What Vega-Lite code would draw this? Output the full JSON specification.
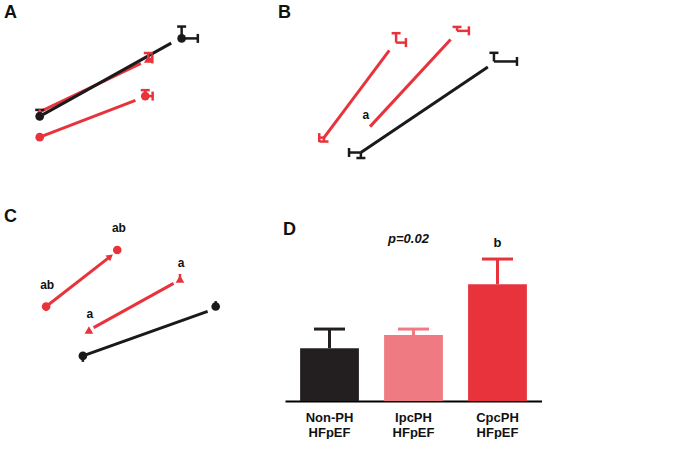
{
  "$schema": "https://vega.github.io/schema/vega-lite/v6.json",
  "background": "white",
  "padding": {"left": 4, "top": 4, "right": 0, "bottom": 0},
  "datasets": {
    "A_pts": [
      {"group": "CpcPH", "x": 0, "y": 4.22}, {"group": "CpcPH", "x": 31.3, "y": 6.3},
      {"group": "IpcPH", "x": 0, "y": 5.5}, {"group": "IpcPH", "x": 32.2, "y": 8.18},
      {"group": "Non-PH", "x": 0, "y": 5.27}, {"group": "Non-PH", "x": 42.1, "y": 9.22}
    ],
    "A_seg": [
      {"group": "CpcPH", "x": 0, "y": 4.22, "x2": 28.4, "y2": 6.08},
      {"group": "IpcPH", "x": 0, "y": 5.5, "x2": 30.0, "y2": 7.95},
      {"group": "Non-PH", "x": 0, "y": 5.27, "x2": 39.0, "y2": 8.98}
    ],
    "A_heads": [
      {"group": "CpcPH", "head": "CpcPH", "x": 28.4, "y": 6.08},
      {"group": "IpcPH", "head": "IpcPH", "x": 30.0, "y": 7.95},
      {"group": "Non-PH", "head": "Non-PH", "x": 39.0, "y": 8.98}
    ],
    "A_xerr": [
      {"group": "CpcPH", "x": 31.3, "y": 6.3, "xe": 33.5},
      {"group": "IpcPH", "x": 32.2, "y": 8.18, "xe": 33.4},
      {"group": "Non-PH", "x": 42.1, "y": 9.22, "xe": 46.9}
    ],
    "A_yerr": [
      {"group": "CpcPH", "x": 31.3, "y": 6.3, "ye": 6.6},
      {"group": "IpcPH", "x": 32.2, "y": 8.18, "ye": 8.48},
      {"group": "Non-PH", "x": 42.1, "y": 9.22, "ye": 9.82},
      {"group": "Non-PH", "x": 0, "y": 5.27, "ye": 5.6}
    ],
    "B_pts": [
      {"group": "CpcPH", "x": 4.24, "y": 20.4}, {"group": "CpcPH", "x": 6.37, "y": 32.5},
      {"group": "IpcPH", "x": 5.48, "y": 21.1}, {"group": "IpcPH", "x": 8.17, "y": 34.0},
      {"group": "Non-PH", "x": 5.33, "y": 18.5}, {"group": "Non-PH", "x": 9.26, "y": 30.1}
    ],
    "B_seg": [
      {"group": "CpcPH", "x": 4.24, "y": 20.4, "x2": 6.17, "y2": 31.5},
      {"group": "IpcPH", "x": 5.6, "y": 21.8, "x2": 7.98, "y2": 32.9},
      {"group": "Non-PH", "x": 5.33, "y": 18.5, "x2": 9.08, "y2": 29.4}
    ],
    "B_xerr": [
      {"group": "CpcPH", "x": 4.24, "y": 20.4, "xe": 4.1},
      {"group": "CpcPH", "x": 6.37, "y": 32.5, "xe": 6.66},
      {"group": "IpcPH", "x": 8.17, "y": 34.0, "xe": 8.52},
      {"group": "Non-PH", "x": 5.33, "y": 18.5, "xe": 4.98},
      {"group": "Non-PH", "x": 9.26, "y": 30.1, "xe": 9.94}
    ],
    "B_yerr": [
      {"group": "CpcPH", "x": 4.24, "y": 20.4, "ye": 19.9},
      {"group": "CpcPH", "x": 6.37, "y": 32.5, "ye": 33.7},
      {"group": "IpcPH", "x": 8.17, "y": 34.0, "ye": 34.5},
      {"group": "Non-PH", "x": 5.33, "y": 18.5, "ye": 17.8},
      {"group": "Non-PH", "x": 9.26, "y": 30.1, "ye": 31.2}
    ],
    "B_notes": [
      {"label": "a", "x": 5.48, "y": 23.3}
    ],
    "C_pts": [
      {"group": "CpcPH", "x": 4.19, "y": 38.9}, {"group": "CpcPH", "x": 6.3, "y": 58.7},
      {"group": "IpcPH", "x": 5.46, "y": 30.7}, {"group": "IpcPH", "x": 8.16, "y": 48.5},
      {"group": "Non-PH", "x": 5.28, "y": 21.6}, {"group": "Non-PH", "x": 9.22, "y": 38.9}
    ],
    "C_seg": [
      {"group": "CpcPH", "x": 4.19, "y": 38.9, "x2": 6.07, "y2": 56.2},
      {"group": "IpcPH", "x": 5.6, "y": 31.5, "x2": 7.97, "y2": 47.0},
      {"group": "Non-PH", "x": 5.28, "y": 21.6, "x2": 8.98, "y2": 37.2}
    ],
    "C_heads": [
      {"group": "CpcPH", "head": "CpcPH", "x": 6.07, "y": 56.2},
      {"group": "IpcPH", "head": "IpcPH", "x": 7.97, "y": 47.0},
      {"group": "IpcPH", "head": "IpcPH-back", "x": 5.62, "y": 31.6},
      {"group": "Non-PH", "head": "Non-PH", "x": 8.98, "y": 37.2}
    ],
    "C_yerr": [
      {"group": "CpcPH", "x": 4.19, "y": 38.9, "ye": 37.3},
      {"group": "CpcPH", "x": 6.3, "y": 58.7, "ye": 60.1},
      {"group": "IpcPH", "x": 8.16, "y": 48.5, "ye": 50.3},
      {"group": "Non-PH", "x": 5.28, "y": 21.6, "ye": 19.5},
      {"group": "Non-PH", "x": 9.22, "y": 38.9, "ye": 40.8}
    ],
    "C_notes": [
      {"label": "ab", "x": 4.22, "y": 46.3},
      {"label": "ab", "x": 6.35, "y": 66.5},
      {"label": "a", "x": 5.49, "y": 36.3},
      {"label": "a", "x": 8.19, "y": 54.1}
    ],
    "D_bars": [
      {"cond": "Non-PH HFpEF", "value": 0.219, "err": 0.298},
      {"cond": "IpcPH HFpEF", "value": 0.273, "err": 0.298},
      {"cond": "CpcPH HFpEF", "value": 0.484, "err": 0.588}
    ],
    "D_p": [{"cond": "IpcPH HFpEF", "y": 0.67, "label": "p=0.02"}],
    "D_b": [{"cond": "CpcPH HFpEF", "y": 0.654, "label": "b"}]
  },
  "resolve": {"scale": {"color": "independent", "shape": "independent"}, "legend": {"color": "independent", "shape": "independent"}},
  "vconcat": [
    {
      "resolve": {"scale": {"color": "independent", "shape": "independent"}, "legend": {"color": "independent", "shape": "independent"}},
      "hconcat": [
        {
          "width": 236, "height": 158,
          "title": {"text": "A", "offset": 1, "dx": -2},
          "layer": [
            {"data": {"name": "A_seg"}, "mark": {"type": "rule", "strokeWidth": 3},
             "encoding": {
               "x": {"field": "x", "type": "quantitative", "scale": {"domain": [-10, 60], "nice": false},
                     "axis": {"title": "Exercise work (watts)", "values": [0, 20, 40, 60], "format": "d", "labelFlush": false, "labelExpr": "datum.value === 0 ? 'Rest' : datum.label"}},
               "y": {"field": "y", "type": "quantitative", "scale": {"domain": [2, 10], "nice": false},
                     "axis": {"title": "Cardiac Output (L/min)", "values": [2, 4, 6, 8, 10], "format": "d"}},
               "x2": {"field": "x2"}, "y2": {"field": "y2"},
               "color": {"field": "group", "type": "nominal", "scale": {"domain": ["CpcPH", "IpcPH", "Non-PH"], "range": ["#e8333c", "#e8333d", "#1a1a1a"]}, "legend": null}}},
            {"data": {"name": "A_xerr"}, "mark": {"type": "rule", "strokeWidth": 2.5},
             "encoding": {"x": {"field": "x", "type": "quantitative", "axis": null}, "x2": {"field": "xe"}, "y": {"field": "y", "type": "quantitative", "axis": null}, "color": {"field": "group", "type": "nominal", "legend": null}}},
            {"data": {"name": "A_xerr"}, "mark": {"type": "tick", "orient": "vertical", "size": 9, "thickness": 2.5, "opacity": 1},
             "encoding": {"x": {"field": "xe", "type": "quantitative", "axis": null}, "y": {"field": "y", "type": "quantitative", "axis": null}, "color": {"field": "group", "type": "nominal", "legend": null}}},
            {"data": {"name": "A_yerr"}, "mark": {"type": "rule", "strokeWidth": 2.5},
             "encoding": {"x": {"field": "x", "type": "quantitative", "axis": null}, "y": {"field": "y", "type": "quantitative", "axis": null}, "y2": {"field": "ye"}, "color": {"field": "group", "type": "nominal", "legend": null}}},
            {"data": {"name": "A_yerr"}, "mark": {"type": "tick", "orient": "horizontal", "size": 9, "thickness": 2.5, "opacity": 1},
             "encoding": {"x": {"field": "x", "type": "quantitative", "axis": null}, "y": {"field": "ye", "type": "quantitative", "axis": null}, "color": {"field": "group", "type": "nominal", "legend": null}}},
            {"data": {"name": "A_pts"}, "mark": {"type": "point", "filled": true, "opacity": 1, "size": 75},
             "encoding": {"x": {"field": "x", "type": "quantitative", "axis": null}, "y": {"field": "y", "type": "quantitative", "axis": null},
               "color": {"field": "group", "type": "nominal", "legend": {"title": null, "orient": "none", "legendX": 190, "legendY": 97}},
               "shape": {"field": "group", "type": "nominal", "scale": {"domain": ["CpcPH", "IpcPH", "Non-PH"], "range": ["circle", "triangle-up", "circle"]}, "legend": {"title": null, "orient": "none", "legendX": 190, "legendY": 97}}}}
          ]
        },
        {
          "width": 237, "height": 157,
          "title": {"text": "B", "offset": 1, "dx": -4},
          "layer": [
            {"data": {"name": "B_seg"}, "mark": {"type": "rule", "strokeWidth": 3},
             "encoding": {
               "x": {"field": "x", "type": "quantitative", "scale": {"domain": [3, 10], "nice": false},
                     "axis": {"title": "Cardiac Output or Venous return (L/min)", "values": [4, 6, 8, 10], "format": "d", "labelFlush": false}},
               "y": {"field": "y", "type": "quantitative", "scale": {"domain": [15, 35], "nice": false},
                     "axis": {"title": "PCWP (mmHg)", "values": [15, 20, 25, 30, 35], "format": "d"}},
               "x2": {"field": "x2"}, "y2": {"field": "y2"},
               "color": {"field": "group", "type": "nominal", "scale": {"domain": ["CpcPH", "IpcPH", "Non-PH"], "range": ["#e8333c", "#e8333d", "#1a1a1a"]}, "legend": null}}},
            {"data": {"name": "B_xerr"}, "mark": {"type": "rule", "strokeWidth": 2.5},
             "encoding": {"x": {"field": "x", "type": "quantitative", "axis": null}, "x2": {"field": "xe"}, "y": {"field": "y", "type": "quantitative", "axis": null}, "color": {"field": "group", "type": "nominal", "legend": null}}},
            {"data": {"name": "B_xerr"}, "mark": {"type": "tick", "orient": "vertical", "size": 9, "thickness": 2.5, "opacity": 1},
             "encoding": {"x": {"field": "xe", "type": "quantitative", "axis": null}, "y": {"field": "y", "type": "quantitative", "axis": null}, "color": {"field": "group", "type": "nominal", "legend": null}}},
            {"data": {"name": "B_yerr"}, "mark": {"type": "rule", "strokeWidth": 2.5},
             "encoding": {"x": {"field": "x", "type": "quantitative", "axis": null}, "y": {"field": "y", "type": "quantitative", "axis": null}, "y2": {"field": "ye"}, "color": {"field": "group", "type": "nominal", "legend": null}}},
            {"data": {"name": "B_yerr"}, "mark": {"type": "tick", "orient": "horizontal", "size": 9, "thickness": 2.5, "opacity": 1},
             "encoding": {"x": {"field": "x", "type": "quantitative", "axis": null}, "y": {"field": "ye", "type": "quantitative", "axis": null}, "color": {"field": "group", "type": "nominal", "legend": null}}},
            {"data": {"name": "B_notes"}, "mark": {"type": "text", "fontWeight": "bold", "fontSize": 12, "color": "#111"},
             "encoding": {"x": {"field": "x", "type": "quantitative", "axis": null}, "y": {"field": "y", "type": "quantitative", "axis": null}, "text": {"field": "label"}}}
          ]
        }
      ],
      "spacing": 36
    },
    {
      "resolve": {"scale": {"color": "independent", "shape": "independent"}, "legend": {"color": "independent", "shape": "independent"}},
      "hconcat": [
        {
          "width": 236, "height": 157,
          "title": {"text": "C", "offset": -4, "dx": -2},
          "layer": [
            {"data": {"name": "C_seg"}, "mark": {"type": "rule", "strokeWidth": 3},
             "encoding": {
               "x": {"field": "x", "type": "quantitative", "scale": {"domain": [3, 10], "nice": false},
                     "axis": {"title": "Cardiac Output or Venous return (L/min)", "values": [4, 6, 8, 10], "format": "d", "labelFlush": false}},
               "y": {"field": "y", "type": "quantitative", "scale": {"domain": [10, 65], "nice": false},
                     "axis": {"title": "Mean PAP (mmHg)", "values": [10, 20, 30, 40, 50, 60], "format": "d"}},
               "x2": {"field": "x2"}, "y2": {"field": "y2"},
               "color": {"field": "group", "type": "nominal", "scale": {"domain": ["CpcPH", "IpcPH", "Non-PH"], "range": ["#e8333c", "#e8333d", "#1a1a1a"]}, "legend": null}}},
            {"data": {"name": "C_yerr"}, "mark": {"type": "rule", "strokeWidth": 2.5},
             "encoding": {"x": {"field": "x", "type": "quantitative", "axis": null}, "y": {"field": "y", "type": "quantitative", "axis": null}, "y2": {"field": "ye"}, "color": {"field": "group", "type": "nominal", "legend": null}}},
            {"data": {"name": "C_heads"}, "transform": [{"filter": "datum.head === 'CpcPH'"}], "mark": {"type": "point", "shape": "triangle", "filled": true, "opacity": 1, "size": 55, "angle": 51},
             "encoding": {"x": {"field": "x", "type": "quantitative", "axis": null}, "y": {"field": "y", "type": "quantitative", "axis": null}, "color": {"field": "group", "type": "nominal", "legend": null}}},
            {"data": {"name": "C_pts"}, "mark": {"type": "point", "filled": true, "opacity": 1, "size": 75},
             "encoding": {"x": {"field": "x", "type": "quantitative", "axis": null}, "y": {"field": "y", "type": "quantitative", "axis": null},
               "color": {"field": "group", "type": "nominal", "legend": null},
               "shape": {"field": "group", "type": "nominal", "scale": {"domain": ["CpcPH", "IpcPH", "Non-PH"], "range": ["circle", "triangle-up", "circle"]}, "legend": null}}},
            {"data": {"name": "C_notes"}, "mark": {"type": "text", "fontWeight": "bold", "fontSize": 12, "color": "#111"},
             "encoding": {"x": {"field": "x", "type": "quantitative", "axis": null}, "y": {"field": "y", "type": "quantitative", "axis": null}, "text": {"field": "label"}}}
          ]
        },
        {
          "width": 257, "height": 169,
          "title": {"text": "D", "offset": -7, "dx": -2},
          "encoding": {
            "x": {"field": "cond", "type": "nominal", "sort": null,
                  "scale": {"domain": ["Non-PH HFpEF", "IpcPH HFpEF", "CpcPH HFpEF"], "paddingInner": 0.3, "paddingOuter": 0.18},
                  "axis": {"title": null, "ticks": false, "labelAngle": 0, "labelPadding": 10, "labelFontSize": 13, "labelLineHeight": 15, "labelExpr": "split(datum.label, ' ')"}}
          },
          "layer": [
            {"data": {"name": "D_bars"}, "mark": {"type": "bar"},
             "encoding": {
               "y": {"field": "value", "type": "quantitative", "scale": {"domain": [0, 0.7], "nice": false},
                     "axis": {"title": "ΔEa-P (mmHg/ml)", "titleFontWeight": "normal", "values": [0, 0.2, 0.4, 0.6], "format": ".1f"}},
               "color": {"field": "cond", "type": "nominal", "scale": {"domain": ["Non-PH HFpEF", "IpcPH HFpEF", "CpcPH HFpEF"], "range": ["#231f20", "#f07a82", "#e8333c"]}, "legend": null}
             }},
            {"data": {"name": "D_bars"}, "mark": {"type": "rule", "strokeWidth": 3},
             "encoding": {
               "y": {"field": "value", "type": "quantitative", "axis": null}, "y2": {"field": "err"},
               "color": {"field": "cond", "type": "nominal", "legend": null}
             }},
            {"data": {"name": "D_bars"}, "mark": {"type": "tick", "orient": "horizontal", "size": 31, "thickness": 3, "opacity": 1},
             "encoding": {
               "y": {"field": "err", "type": "quantitative", "axis": null},
               "color": {"field": "cond", "type": "nominal", "legend": null}
             }},
            {"data": {"name": "D_p"}, "mark": {"type": "text", "fontWeight": "bold", "fontStyle": "italic", "fontSize": 13, "color": "#111", "dx": -5},
             "encoding": {"y": {"field": "y", "type": "quantitative", "axis": null}, "text": {"field": "label"}}},
            {"data": {"name": "D_b"}, "mark": {"type": "text", "fontWeight": "bold", "fontSize": 13, "color": "#111"},
             "encoding": {"y": {"field": "y", "type": "quantitative", "axis": null}, "text": {"field": "label"}}}
          ]
        }
      ],
      "spacing": 41
    }
  ],
  "spacing": 26,
  "config": {
    "font": "Liberation Sans",
    "view": {"stroke": null},
    "axis": {
      "grid": false, "domainColor": "#000", "domainWidth": 2, "tickColor": "#000", "tickWidth": 1.5, "tickSize": 5,
      "labelFont": "Liberation Sans", "labelFontSize": 12, "labelFontWeight": "bold", "labelColor": "#111", "labelPadding": 3,
      "titleFont": "Liberation Sans", "titleFontSize": 13, "titleFontWeight": "bold", "titleColor": "#111", "titlePadding": 7
    },
    "axisX": {"titlePadding": 3},
    "axisY": {"titlePadding": 7},
    "title": {"fontSize": 18, "fontWeight": "bold", "anchor": "start", "frame": "bounds", "color": "#111", "font": "Liberation Sans"},
    "legend": {
      "labelFont": "Liberation Sans", "labelFontSize": 12, "labelColor": "#222",
      "strokeColor": "#000", "padding": 6, "rowPadding": 4, "symbolSize": 70, "labelOffset": 16
    }
  }
}
